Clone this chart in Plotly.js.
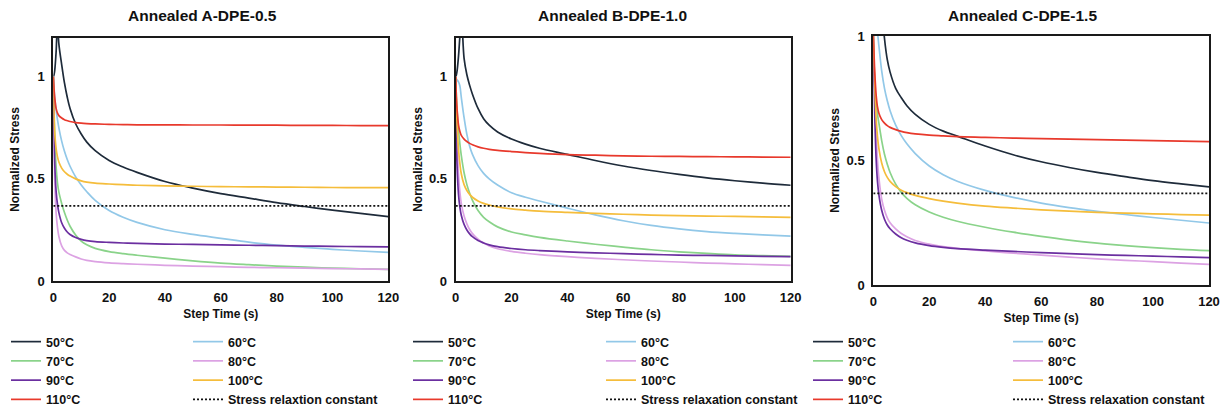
<!DOCTYPE html>
<html>
<head>
<meta charset="utf-8">
<script src="https://cdn.plot.ly/plotly-3.0.1.min.js"></script>
<style>html,body{margin:0;padding:0;background:#fff;}#chart{width:1228px;height:410px;}</style>
</head>
<body>
<div id="chart"></div>
<script>
// ---- Data ----
const stepTime = [0, 0.25, 0.5, 1, 1.5, 2, 3, 4, 5, 6, 8, 10, 12, 15, 20, 25, 30, 40, 50, 60, 70, 80, 90, 100, 110, 120];

const panelTitles = ["Annealed A-DPE-0.5", "Annealed B-DPE-1.0", "Annealed C-DPE-1.5"];
const seriesNames = ["50°C", "60°C", "70°C", "80°C", "90°C", "100°C", "110°C"];
const constantNames = ["Stress relaxtion constant", "Stress relaxation constant", "Stress relaxation constant"];
const relaxConstant = [0.368, 0.368];
const constantTime = [0, 120];
const xTicks = [0, 20, 40, 60, 80, 100, 120];
const yTicks = [0, 0.5, 1];
const yTickText = ["0", "0.5", "1"];

// Panel A (A-DPE-0.5)
const A_50  = [1.0, 1.01, 1.03, 1.12, 1.26, 1.16, 1.06, 0.97, 0.9, 0.845, 0.77, 0.72, 0.68, 0.638, 0.59, 0.558, 0.532, 0.487, 0.455, 0.428, 0.406, 0.384, 0.365, 0.347, 0.331, 0.315];
const A_60  = [1, 0.95, 0.9, 0.84, 0.79, 0.75, 0.685, 0.635, 0.595, 0.562, 0.51, 0.47, 0.437, 0.395, 0.345, 0.312, 0.287, 0.251, 0.228, 0.209, 0.19, 0.176, 0.165, 0.155, 0.147, 0.14];
const A_70  = [1, 0.84, 0.72, 0.56, 0.48, 0.435, 0.38, 0.335, 0.298, 0.268, 0.225, 0.195, 0.177, 0.16, 0.144, 0.134, 0.126, 0.112, 0.099, 0.088, 0.08, 0.073, 0.068, 0.063, 0.06, 0.057];
const A_80  = [1, 0.68, 0.5, 0.335, 0.262, 0.218, 0.172, 0.15, 0.138, 0.13, 0.118, 0.108, 0.101, 0.095, 0.089, 0.085, 0.082, 0.077, 0.073, 0.07, 0.067, 0.065, 0.063, 0.061, 0.059, 0.057];
const A_90  = [1, 0.72, 0.58, 0.44, 0.375, 0.335, 0.285, 0.258, 0.24, 0.228, 0.213, 0.204, 0.198, 0.193, 0.189, 0.186, 0.184, 0.181, 0.179, 0.177, 0.175, 0.173, 0.171, 0.17, 0.168, 0.167];
const A_100 = [1, 0.82, 0.73, 0.65, 0.608, 0.583, 0.553, 0.535, 0.523, 0.514, 0.5, 0.49, 0.484, 0.479, 0.475, 0.472, 0.469, 0.466, 0.464, 0.462, 0.461, 0.46, 0.459, 0.458, 0.457, 0.457];
const A_110 = [1, 0.94, 0.9, 0.845, 0.822, 0.81, 0.798, 0.79, 0.785, 0.781, 0.776, 0.773, 0.771, 0.769, 0.767, 0.766, 0.765, 0.765, 0.764, 0.764, 0.763, 0.763, 0.762, 0.762, 0.761, 0.761];

// Panel B (B-DPE-1.0)
const B_50  = [1.0, 1.01, 1.03, 1.1, 1.2, 1.32, 1.09, 1.01, 0.958, 0.915, 0.845, 0.795, 0.763, 0.73, 0.695, 0.67, 0.65, 0.62, 0.59, 0.563, 0.541, 0.522, 0.505, 0.491, 0.479, 0.469];
const B_60  = [1, 0.99, 0.985, 0.975, 0.955, 0.9, 0.8, 0.718, 0.66, 0.62, 0.565, 0.527, 0.5, 0.47, 0.432, 0.41, 0.392, 0.357, 0.324, 0.295, 0.272, 0.255, 0.242, 0.233, 0.226, 0.22];
const B_70  = [1, 0.9, 0.83, 0.74, 0.67, 0.615, 0.53, 0.472, 0.43, 0.395, 0.345, 0.312, 0.29, 0.265, 0.24, 0.226, 0.214, 0.196, 0.18, 0.166, 0.153, 0.143, 0.135, 0.128, 0.124, 0.121];
const B_80  = [1, 0.82, 0.7, 0.52, 0.435, 0.38, 0.318, 0.28, 0.252, 0.232, 0.205, 0.186, 0.172, 0.158, 0.145, 0.136, 0.129, 0.119, 0.111, 0.104, 0.098, 0.093, 0.088, 0.084, 0.08, 0.077];
const B_90  = [1, 0.7, 0.56, 0.425, 0.36, 0.322, 0.277, 0.25, 0.231, 0.217, 0.198, 0.186, 0.177, 0.168, 0.159, 0.153, 0.149, 0.143, 0.138, 0.134, 0.13, 0.127, 0.125, 0.123, 0.121, 0.119];
const B_100 = [1, 0.86, 0.77, 0.645, 0.575, 0.525, 0.472, 0.443, 0.424, 0.41, 0.392, 0.38, 0.372, 0.363, 0.353, 0.347, 0.342, 0.336, 0.331, 0.327, 0.323, 0.32, 0.318, 0.316, 0.314, 0.312];
const B_110 = [1, 0.9, 0.84, 0.765, 0.732, 0.713, 0.695, 0.683, 0.674, 0.667, 0.657, 0.65, 0.645, 0.64, 0.634, 0.629, 0.625, 0.619, 0.616, 0.613, 0.611, 0.61, 0.609, 0.608, 0.607, 0.606];

// Panel C (C-DPE-1.5)
const C_50  = [1.0, 1.03, 1.08, 1.2, 1.3, 1.28, 1.12, 0.99, 0.905, 0.855, 0.79, 0.752, 0.72, 0.685, 0.645, 0.618, 0.598, 0.558, 0.523, 0.495, 0.472, 0.452, 0.435, 0.419, 0.406, 0.394];
const C_60  = [1, 1.01, 1.02, 1.03, 1.01, 0.96, 0.86, 0.79, 0.74, 0.7, 0.642, 0.6, 0.567, 0.528, 0.478, 0.443, 0.417, 0.38, 0.352, 0.329, 0.311, 0.296, 0.283, 0.271, 0.26, 0.249];
const C_70  = [1, 0.87, 0.795, 0.73, 0.685, 0.65, 0.58, 0.525, 0.485, 0.452, 0.405, 0.372, 0.348, 0.322, 0.293, 0.272, 0.256, 0.232, 0.212, 0.195, 0.18, 0.168, 0.158, 0.15, 0.143, 0.138];
const C_80  = [1, 0.9, 0.8, 0.61, 0.5, 0.43, 0.345, 0.3, 0.27, 0.25, 0.225, 0.207, 0.194, 0.179, 0.164, 0.154, 0.147, 0.137, 0.128, 0.12, 0.112, 0.105, 0.099, 0.094, 0.088, 0.083];
const C_90  = [1, 0.82, 0.69, 0.51, 0.415, 0.362, 0.3, 0.264, 0.241, 0.226, 0.205, 0.19, 0.18, 0.169, 0.158, 0.151, 0.146, 0.14, 0.135, 0.13, 0.126, 0.122, 0.119, 0.116, 0.113, 0.11];
const C_100 = [1, 0.9, 0.82, 0.67, 0.595, 0.548, 0.49, 0.455, 0.432, 0.416, 0.395, 0.381, 0.371, 0.36, 0.347, 0.337, 0.329, 0.317, 0.309, 0.302, 0.297, 0.292, 0.289, 0.286, 0.283, 0.281];
const C_110 = [1, 0.93, 0.86, 0.765, 0.715, 0.69, 0.664, 0.65, 0.64, 0.633, 0.624, 0.617, 0.612, 0.607, 0.602, 0.599, 0.596, 0.593, 0.59, 0.588, 0.586, 0.584, 0.582, 0.58, 0.578, 0.576];

// ---- Styling ----
const colors = ["#1e2b3a", "#92c8e8", "#8ad38a", "#dca2e3", "#6b2fa0", "#f5bd3b", "#e8392c"];
const FONT = "Arial, 'Liberation Sans', sans-serif";
const panels = [
  {series: [A_50, A_60, A_70, A_80, A_90, A_100, A_110], xd: [53.3, 388.3], yd: [38, 281], yMax: 1.19},
  {series: [B_50, B_60, B_70, B_80, B_90, B_100, B_110], xd: [455.7, 790.7], yd: [38, 281], yMax: 1.19},
  {series: [C_50, C_60, C_70, C_80, C_90, C_100, C_110], xd: [873.3, 1209], yd: [36, 285], yMax: 1.0}
];
const W = 1228, H = 410;
const titleX = [202, 612, 1022];
const legendTextX = [[46, 228], [448, 641], [848, 1048]];
const legendTopY = 327;

const traces = [];
const layout = {
  width: W, height: H,
  margin: {l: 0, r: 0, t: 0, b: 0, autoexpand: false},
  paper_bgcolor: "#fff", plot_bgcolor: "#fff",
  font: {family: FONT, color: "#111"},
  showlegend: true,
  annotations: []
};

panels.forEach((p, i) => {
  const xa = i === 0 ? "x" : "x" + (i + 1);
  const ya = i === 0 ? "y" : "y" + (i + 1);
  const legA = i === 0 ? "legend" : "legend" + (2 * i + 1);
  const legB = "legend" + (2 * i + 2);
  p.series.forEach((vals, k) => {
    traces.push({
      type: "scatter", mode: "lines", x: stepTime, y: vals,
      name: seriesNames[k], xaxis: xa, yaxis: ya,
      legend: (k % 2 === 0) ? legA : legB,
      line: {color: colors[k], width: 1.7, shape: "spline", smoothing: 1},
      hoverinfo: "skip"
    });
  });
  traces.push({
    type: "scatter", mode: "lines", x: constantTime, y: relaxConstant,
    name: constantNames[i], xaxis: xa, yaxis: ya, legend: legB,
    line: {color: "#111", width: 1.8, dash: "2px,2px"}, hoverinfo: "skip"
  });

  const axKeyX = i === 0 ? "xaxis" : "xaxis" + (i + 1);
  const axKeyY = i === 0 ? "yaxis" : "yaxis" + (i + 1);
  layout[axKeyX] = {
    domain: [p.xd[0] / W, p.xd[1] / W], anchor: ya, automargin: false,
    range: [0, 120], tickvals: xTicks, ticks: "", ticklabelstandoff: 3,
    showgrid: false, zeroline: false,
    showline: true, mirror: true, linecolor: "#1a1a1a", linewidth: 2,
    tickfont: {family: FONT, size: 13, weight: "bold", color: "#111"},
    title: {text: "Step Time (s)", font: {family: FONT, size: 12, weight: "bold", color: "#111"}, standoff: 6}
  };
  layout[axKeyY] = {
    domain: [1 - p.yd[1] / H, 1 - p.yd[0] / H], anchor: xa, automargin: false,
    range: [0, p.yMax], tickvals: yTicks, ticktext: yTickText, ticks: "", ticklabelstandoff: 4,
    showgrid: false, zeroline: false,
    showline: true, mirror: true, linecolor: "#1a1a1a", linewidth: 2,
    tickfont: {family: FONT, size: 13, weight: "bold", color: "#111"},
    title: {text: "Normalized Stress", font: {family: FONT, size: 12, weight: "bold", color: "#111"}, standoff: 4}
  };
  [legA, legB].forEach((lk, c) => {
    layout[lk] = {
      x: (legendTextX[i][c] - 40) / W, y: 1 - legendTopY / H,
      xanchor: "left", yanchor: "top", orientation: "v",
      bgcolor: "rgba(0,0,0,0)", borderwidth: 0, tracegroupgap: 0,
      font: {family: FONT, size: 12.5, weight: "bold", color: "#111"}
    };
  });
  layout.annotations.push({
    text: panelTitles[i], xref: "paper", yref: "paper",
    x: titleX[i] / W, y: 1 - 15 / H, xanchor: "center", yanchor: "middle",
    showarrow: false, font: {family: FONT, size: 15.5, weight: "bold", color: "#111"}
  });
});

Plotly.newPlot("chart", traces, layout, {displayModeBar: false, staticPlot: true});
</script>
</body>
</html>
